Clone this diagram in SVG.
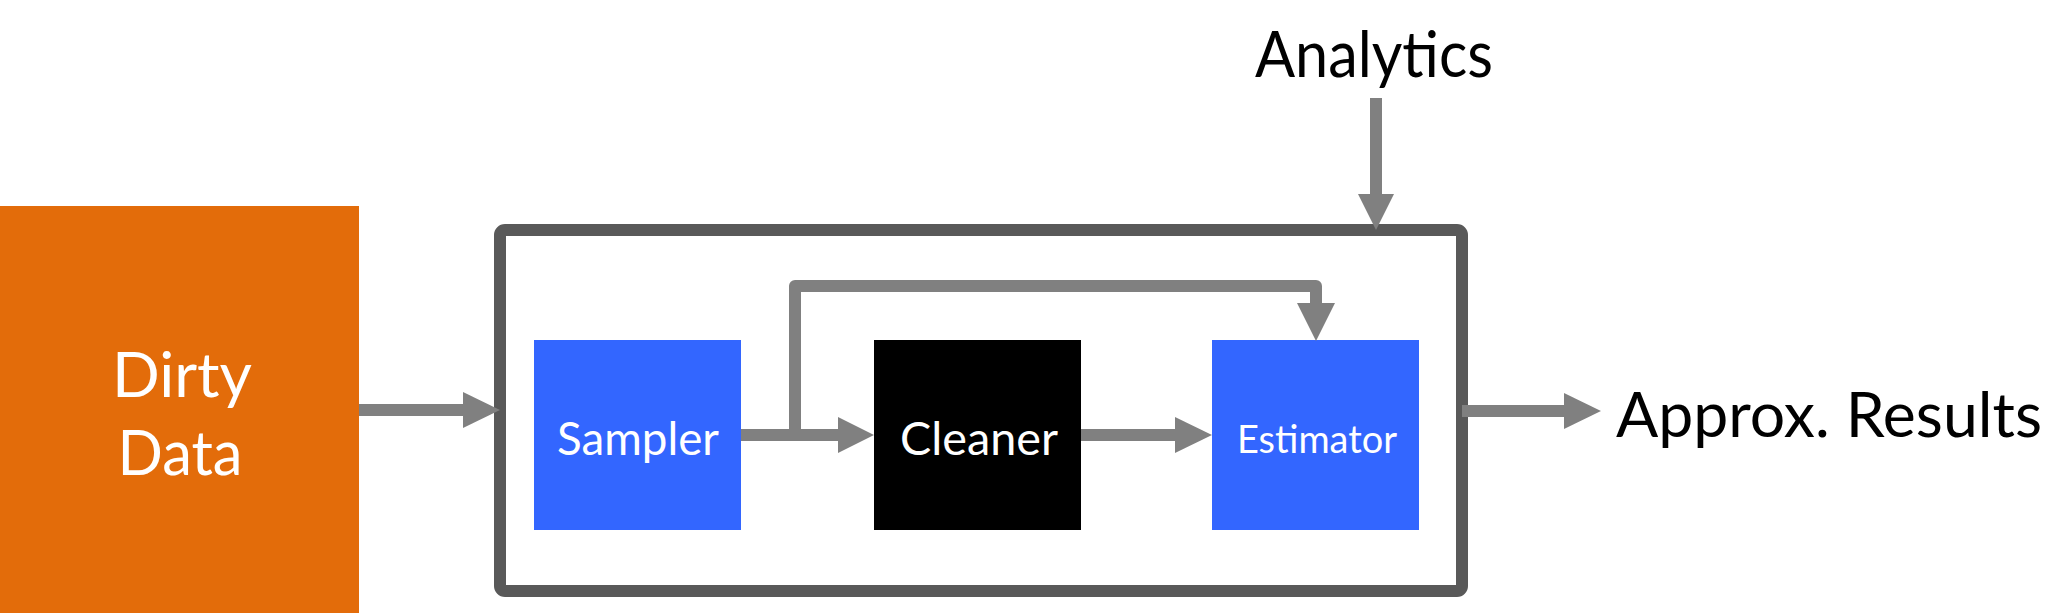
<svg xmlns="http://www.w3.org/2000/svg" width="2061" height="614" viewBox="0 0 2061 614">
<style>
.lbl{font-family:Lato,"Open Sans","Liberation Sans",sans-serif;}
.wt{fill:#ffffff;}
.bk{fill:#000000;}
.ln{stroke:#808080;stroke-width:12;fill:none;stroke-linejoin:round;}
.hd{fill:#808080;}
</style>
<rect width="2061" height="614" fill="#ffffff"/>
<g id="container">
<rect x="500" y="230" width="962" height="361" rx="5" fill="#ffffff" stroke="#595959" stroke-width="12"/>
</g>
<g id="dirty-data">
<rect x="0" y="206" width="359" height="407" fill="#E36C0A"/>
<text class="lbl wt" x="182" y="397" font-size="62" text-anchor="middle" textLength="140" lengthAdjust="spacingAndGlyphs">Dirty</text>
<text class="lbl wt" x="180" y="475" font-size="62" text-anchor="middle" textLength="125" lengthAdjust="spacingAndGlyphs">Data</text>
</g>
<g id="sampler">
<rect x="534" y="340" width="207" height="190" fill="#3366FF"/>
<text class="lbl wt" x="638" y="455" font-size="47" text-anchor="middle" textLength="162" lengthAdjust="spacingAndGlyphs">Sampler</text>
</g>
<g id="cleaner">
<rect x="874" y="340" width="207" height="190" fill="#000000"/>
<text class="lbl wt" x="979" y="455" font-size="47" text-anchor="middle" textLength="158" lengthAdjust="spacingAndGlyphs">Cleaner</text>
</g>
<g id="estimator">
<rect x="1212" y="340" width="207" height="190" fill="#3366FF"/>
<text class="lbl wt" x="1317" y="453" font-size="39" text-anchor="middle" textLength="160" lengthAdjust="spacingAndGlyphs">Estimator</text>
</g>
<g id="analytics">
<text class="lbl bk" x="1374" y="77" font-size="64" text-anchor="middle" textLength="238" lengthAdjust="spacingAndGlyphs">Analytics</text>
</g>
<g id="approx-results">
<text class="lbl bk" x="1616" y="437" font-size="62" textLength="426" lengthAdjust="spacingAndGlyphs">Approx. Results</text>
</g>
<g id="connectors">
<line class="ln" x1="359" y1="410" x2="465" y2="410"/>
<polygon class="hd" points="463,392 500,410 463,428"/>
<line class="ln" x1="741" y1="435" x2="840" y2="435"/>
<polygon class="hd" points="838,417 874,435 838,453"/>
<path class="ln" d="M795,435 V286 H1316 V305"/>
<polygon class="hd" points="1297,303 1316,341 1335,303"/>
<line class="ln" x1="1081" y1="435" x2="1177" y2="435"/>
<polygon class="hd" points="1175,417 1212,435 1175,453"/>
<line class="ln" x1="1376" y1="98" x2="1376" y2="196"/>
<polygon class="hd" points="1358,194 1376,230 1394,194"/>
<line class="ln" x1="1462" y1="411" x2="1566" y2="411"/>
<polygon class="hd" points="1564,393 1601,411 1564,429"/>
</g>
</svg>
